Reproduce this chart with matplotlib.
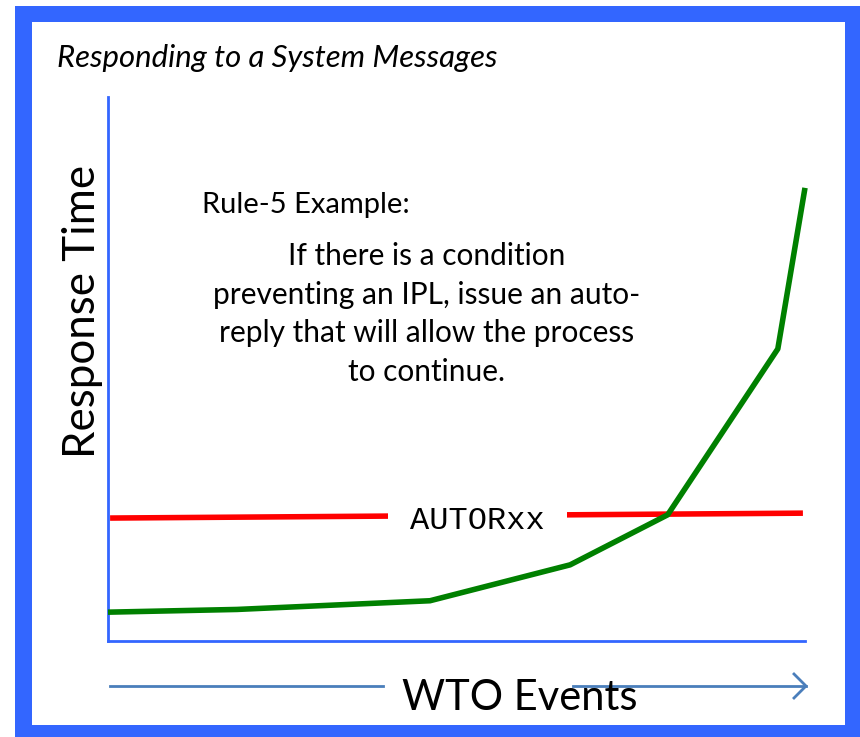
import matplotlib
matplotlib.use("Agg")
import matplotlib.pyplot as plt
from matplotlib.patches import Rectangle

# WTO events (x) vs response time (y), both on a 0-100 scale
events = [0, 18.5, 46.2, 66.3, 80.3, 96.1, 100.0]
response = [5.3, 5.8, 7.4, 14.0, 23.2, 53.7, 83.3]
# AUTORxx threshold line
limit_x = [0.3, 99.7]
limit_y = [22.6, 23.5]

W, H = 860, 737
BLUE = "#3366ff"
ARROW = "#4a7ebb"
FONT = "Lato"


def fx(px):
    return px / W


def fy(py):
    return 1 - py / H


fig = plt.figure(figsize=(W / 100, H / 100), dpi=100)
fig.patch.set_facecolor("white")

# blue frame
fig.patches.append(Rectangle((fx(15), 0), 1 - fx(15), fy(6), transform=fig.transFigure,
                             facecolor=BLUE, edgecolor="none", zorder=-2))
fig.patches.append(Rectangle((fx(32), fy(725)), fx(845) - fx(32), fy(22) - fy(725),
                             transform=fig.transFigure, facecolor="white",
                             edgecolor="none", zorder=-1))

ax = fig.add_axes([fx(108), fy(641), fx(805) - fx(108), fy(97) - fy(641)])
ax.set_facecolor("none")
ax.set_zorder(1)
ax.set_xlim(0, 100)
ax.set_ylim(0, 100)
for s in ["top", "right"]:
    ax.spines[s].set_visible(False)
for s in ["left", "bottom"]:
    ax.spines[s].set_color(BLUE)
    ax.spines[s].set_linewidth(2)
ax.set_xticks([])
ax.set_yticks([])

ax.plot(limit_x, limit_y, color="red", lw=4, solid_capstyle="butt", clip_on=False, zorder=2)
ax.plot(events, response, color="green", lw=4, solid_capstyle="butt", clip_on=False, zorder=3)
ax.text(53.0, 22.0, "AUTORxx", fontsize=23, family="Liberation Mono", ha="center",
        va="center", zorder=4,
        bbox=dict(facecolor="white", edgecolor="none", boxstyle="square,pad=0.7"))

fig.text(fx(57), fy(58), "Responding to a System Messages", fontsize=22.4, style="italic",
         family=FONT, ha="left", va="center")
fig.text(fx(83), fy(311), "Response Time", fontsize=31.6, family=FONT, rotation=90,
         ha="center", va="center")
fig.text(fx(202), fy(205), "Rule-5 Example:", fontsize=21, family=FONT, ha="left", va="center")
fig.text(fx(427), fy(314),
         "If there is a condition\npreventing an IPL, issue an auto-\n"
         "reply that will allow the process\nto continue.",
         fontsize=21.5, family=FONT, ha="center", va="center", linespacing=1.45)

# x-axis caption with arrow
fig.text(fx(520), fy(698), "WTO Events", fontsize=30, family=FONT, ha="center", va="center")
fig.lines.append(plt.Line2D([fx(110), fx(383)], [fy(686), fy(686)], transform=fig.transFigure,
                            color=ARROW, lw=2))
fig.lines.append(plt.Line2D([fx(573), fx(806)], [fy(686), fy(686)], transform=fig.transFigure,
                            color=ARROW, lw=2))
fig.lines.append(plt.Line2D([fx(794), fx(806), fx(794)], [fy(674), fy(686), fy(698)],
                            transform=fig.transFigure, color=ARROW, lw=2))

fig.savefig("out.png", dpi=100)
